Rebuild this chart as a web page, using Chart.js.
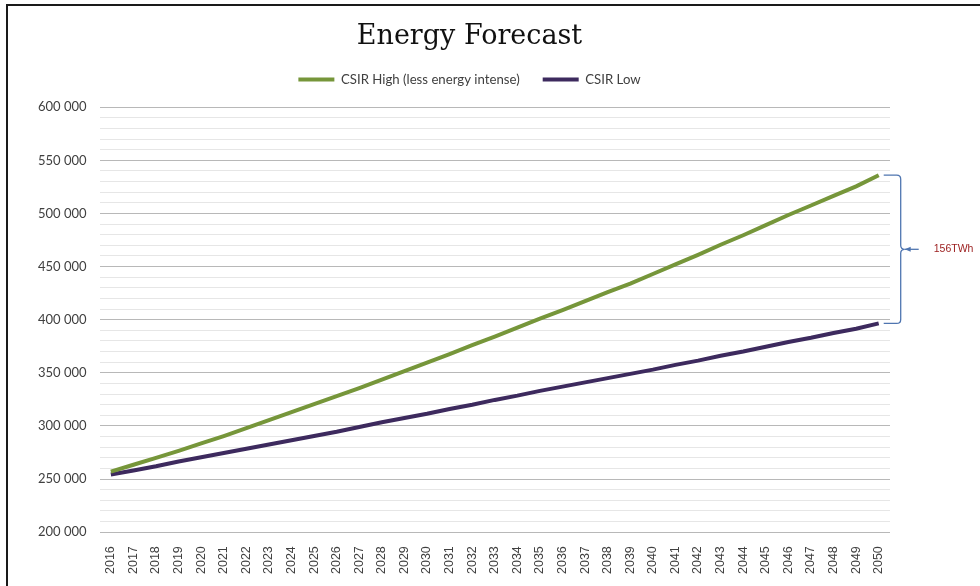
<!DOCTYPE html>
<html>
<head>
<meta charset="utf-8">
<title>Energy Forecast</title>
<script src="https://cdn.jsdelivr.net/npm/chart.js@4"></script>
<style>
    html, body { margin: 0; padding: 0; background: #fff; }
    #wrap { position: relative; width: 980px; height: 586px; }
    #frame {
        position: absolute; left: 6px; top: 4px; right: 0; bottom: 0;
        border-top: 2px solid #1a1a1a; border-left: 2px solid #1a1a1a;
        pointer-events: none;
    }
</style>
</head>
<body>
<div id="wrap">
    <canvas id="forecastChart" width="980" height="586"></canvas>
    <div id="frame"></div>
</div>

<script>

// ======================
// DATA (GWh per year)
// ======================

const years = [
    "2016", "2017", "2018", "2019", "2020", "2021", "2022", "2023", "2024",
    "2025", "2026", "2027", "2028", "2029", "2030", "2031", "2032", "2033",
    "2034", "2035", "2036", "2037", "2038", "2039", "2040", "2041", "2042",
    "2043", "2044", "2045", "2046", "2047", "2048", "2049", "2050"
];

const csirHigh = [
    257000, 263500, 270000, 276500, 283500, 290500, 298000, 305500, 313000,
    320500, 328000, 335500, 343500, 351500, 359500, 367500, 376000, 384000,
    392500, 401000, 409000, 417500, 426000, 434000, 443000, 452000, 461000,
    470500, 479500, 489000, 498500, 507500, 516500, 525500, 536000
];

const csirLow = [
    254300, 258000, 262000, 266500, 270500, 274500, 278500, 282500, 286500,
    290500, 294500, 299000, 303500, 307500, 311500, 316000, 320000, 324500,
    328500, 333000, 337000, 341000, 345000, 349000, 353000, 357500, 361500,
    366000, 370000, 374500, 379000, 383000, 387500, 391500, 396500
];

const seriesNames = ["CSIR High (less energy intense)", "CSIR Low"];
const gapLabel = "156TWh";

const yMin = 200000;
const yMax = 600000;
const yMajorStep = 50000;
const yMinorStep = 10000;


// ======================
// HELPERS
// ======================

function spaced(value) {
    return String(value).replace(/\B(?=(\d{3})+(?!\d))/g, " ");
}


// ======================
// HEADER NUDGE
// title and legend sit a little right of the plot centre
// ======================

const headerShift = {
    id: "headerShift",
    afterLayout(chart) {
        [chart.titleBlock, chart.legend].forEach(box => {
            if (!box) return;
            box.left += 12;
            box.right += 12;
        });
    }
};


// ======================
// GAP BRACE ON THE RIGHT
// ======================

const gapBrace = {
    id: "gapBrace",
    afterDatasetsDraw(chart) {
        const ctx = chart.ctx;
        const x = chart.scales.x;
        const y = chart.scales.y;
        const last = years.length - 1;

        const xEnd = x.getPixelForValue(last);
        const yTop = y.getPixelForValue(csirHigh[last]);
        const yBot = y.getPixelForValue(csirLow[last]);
        const mid = (yTop + yBot) / 2;

        const x0 = xEnd + 5;
        const bx = xEnd + 22;
        const r = 4;

        ctx.save();
        ctx.strokeStyle = "#4f75b0";
        ctx.lineWidth = 1.3;

        ctx.beginPath();
        ctx.moveTo(x0, yTop);
        ctx.lineTo(bx - r, yTop);
        ctx.quadraticCurveTo(bx, yTop, bx, yTop + r);
        ctx.lineTo(bx, mid - r);
        ctx.quadraticCurveTo(bx, mid, bx + r, mid);
        ctx.quadraticCurveTo(bx, mid, bx, mid + r);
        ctx.lineTo(bx, yBot - r);
        ctx.quadraticCurveTo(bx, yBot, bx - r, yBot);
        ctx.lineTo(x0, yBot);
        ctx.stroke();

        // pointer from the brace tip
        ctx.beginPath();
        ctx.moveTo(bx + r, mid);
        ctx.lineTo(xEnd + 40, mid);
        ctx.stroke();

        ctx.fillStyle = "#4f75b0";
        ctx.beginPath();
        ctx.moveTo(bx + r, mid);
        ctx.lineTo(bx + r + 6, mid - 2.5);
        ctx.lineTo(bx + r + 6, mid + 2.5);
        ctx.closePath();
        ctx.fill();

        ctx.fillStyle = "#9a1b1b";
        ctx.font = "10.5px 'Liberation Sans', sans-serif";
        ctx.textAlign = "left";
        ctx.textBaseline = "middle";
        ctx.fillText(gapLabel, xEnd + 55, mid);
        ctx.restore();
    }
};


// ======================
// LINE CHART
// ======================

new Chart(
    document.getElementById("forecastChart"),
    {
        type: "line",

        data: {
            labels: years,

            datasets: [
                {
                    label: seriesNames[0],
                    data: csirHigh,
                    borderColor: "#76963a",
                    backgroundColor: "#76963a",
                    borderWidth: 4,
                    pointRadius: 0,
                    tension: 0
                },
                {
                    label: seriesNames[1],
                    data: csirLow,
                    borderColor: "#3d2a5e",
                    backgroundColor: "#3d2a5e",
                    borderWidth: 4,
                    pointRadius: 0,
                    tension: 0
                }
            ]
        },

        options: {
            responsive: false,
            animation: false,

            layout: {
                padding: { top: 8, left: 25, right: 90, bottom: 6 }
            },

            plugins: {
                title: {
                    display: true,
                    text: "Energy Forecast",
                    color: "#111",
                    font: { family: "'DejaVu Serif', serif", size: 27, weight: "normal", lineHeight: 1 },
                    padding: { top: 15, bottom: 0 }
                },

                legend: {
                    display: true,
                    labels: {
                        usePointStyle: true,
                        pointStyle: "line",
                        pointStyleWidth: 36,
                        padding: 23,
                        color: "#404040",
                        font: { family: "Lato, sans-serif", size: 13.2 }
                    }
                },

                // empty spacer between the legend and the plot
                subtitle: {
                    display: true,
                    text: "",
                    weight: 500,
                    font: { size: 1, lineHeight: 1 },
                    padding: { top: 0, bottom: 10 }
                },

                tooltip: { enabled: false }
            },

            scales: {
                x: {
                    offset: true,
                    grid: { display: false },
                    border: { display: false },
                    ticks: {
                        autoSkip: false,
                        minRotation: 90,
                        maxRotation: 90,
                        padding: 6,
                        color: "#404040",
                        font: { family: "'Liberation Sans', sans-serif", size: 12.5 }
                    }
                },

                y: {
                    min: yMin,
                    max: yMax,
                    border: { display: false },
                    grid: {
                        drawTicks: false,
                        lineWidth: 1,
                        color: ctx => ctx.tick && ctx.tick.value % yMajorStep === 0 ? "#b8b8b8" : "#e6e6e6"
                    },
                    ticks: {
                        stepSize: yMinorStep,
                        autoSkip: false,
                        padding: 13,
                        color: "#404040",
                        font: { family: "Lato, sans-serif", size: 13 },
                        callback: value => value % yMajorStep === 0 ? spaced(value) : ""
                    }
                }
            }
        },

        plugins: [headerShift, gapBrace]
    }
);

</script>
</body>
</html>
